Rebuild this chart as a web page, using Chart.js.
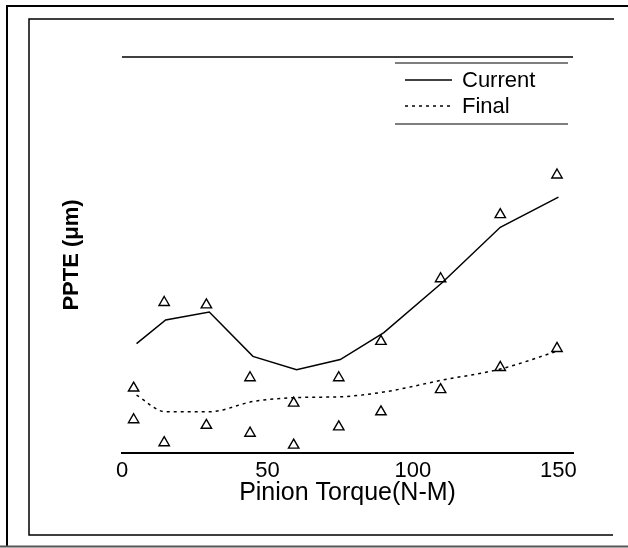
<!DOCTYPE html>
<html>
<head>
<meta charset="utf-8">
<script src="https://cdn.jsdelivr.net/npm/chart.js@4.4.0/dist/chart.umd.min.js"></script>
<style>
  html, body { margin: 0; padding: 0; background: #fff; }
  #wrap { position: relative; width: 628px; height: 548px; }
</style>
</head>
<body>
<div id="wrap"><canvas id="ppteChart"></canvas></div>
<script>
// torque values (N-M) for the fitted curves and the measured points
const torque = [5, 15, 30, 45, 60, 75, 90, 110, 130, 150];
const measuredTorque = [4, 14.5, 29, 44, 59, 74.5, 89, 109.5, 130, 149.5];

// PPTE (arbitrary units, axis has no labels)
const currentFit = [1.38, 1.68, 1.78, 1.22, 1.05, 1.18, 1.52, 2.15, 2.85, 3.23];
const finalFit = [0.73, 0.52, 0.52, 0.65, 0.70, 0.71, 0.77, 0.92, 1.06, 1.29];
const currentMeasured = [0.82, 1.90, 1.87, 0.95, 0.63, 0.95, 1.41, 2.20, 3.01, 3.51];
const finalMeasured = [0.42, 0.13, 0.35, 0.25, 0.10, 0.33, 0.52, 0.80, 1.08, 1.32];

const xTicks = [0, 50, 100, 150];
const legendLabels = ['Current', 'Final'];

const FONT = '"Liberation Sans", Arial, sans-serif';

function toPoints(xs, ys) {
    return xs.map((x, i) => ({ x: x, y: ys[i] }));
}

// frame lines around the figure and the custom legend box
const framePlugin = {
    id: 'frame',
    afterDraw(chart) {
        const ctx = chart.ctx;
        const area = chart.chartArea;
        ctx.save();
        ctx.strokeStyle = '#000';

        // outer frame
        ctx.lineWidth = 2;
        ctx.beginPath();
        ctx.moveTo(628, 6); ctx.lineTo(7, 6); ctx.lineTo(7, 546);
        ctx.stroke();
        ctx.strokeStyle = '#555';
        ctx.beginPath();
        ctx.moveTo(0, 546.5); ctx.lineTo(628, 546.5);
        ctx.stroke();

        // inner frame
        ctx.strokeStyle = '#000';
        ctx.lineWidth = 1.5;
        ctx.beginPath();
        ctx.moveTo(614, 19); ctx.lineTo(29, 19); ctx.lineTo(29, 535); ctx.lineTo(613, 535);
        ctx.stroke();

        // top line of the plot
        ctx.beginPath();
        ctx.moveTo(area.left, area.top); ctx.lineTo(area.right, area.top);
        ctx.stroke();

        // legend box
        ctx.lineWidth = 1.2;
        ctx.beginPath();
        ctx.moveTo(395, 63); ctx.lineTo(568, 63);
        ctx.moveTo(395, 124); ctx.lineTo(568, 124);
        ctx.stroke();

        const rows = [80, 106];
        ctx.font = '22px ' + FONT;
        ctx.fillStyle = '#000';
        ctx.textBaseline = 'middle';
        legendLabels.forEach((label, i) => {
            const ds = chart.data.datasets.find(d => d.label === label);
            ctx.lineWidth = ds.borderWidth;
            ctx.setLineDash(ds.borderDash || []);
            ctx.beginPath();
            ctx.moveTo(405, rows[i]); ctx.lineTo(452, rows[i]);
            ctx.stroke();
            ctx.setLineDash([]);
            ctx.fillText(label, 462, rows[i] + 1);
        });
        ctx.restore();
    }
};

new Chart(document.getElementById('ppteChart'), {
    type: 'scatter',
    data: {
        datasets: [{
            label: 'Current',
            data: toPoints(torque, currentFit),
            showLine: true,
            borderColor: '#000',
            borderWidth: 1.5,
            pointRadius: 0,
            tension: 0
        }, {
            label: 'Final',
            data: toPoints(torque, finalFit),
            showLine: true,
            borderColor: '#000',
            borderWidth: 1.5,
            borderDash: [3, 4],
            pointRadius: 0,
            cubicInterpolationMode: 'monotone'
        }, {
            label: 'Current (measured)',
            data: toPoints(measuredTorque, currentMeasured),
            pointStyle: 'triangle',
            pointRadius: 6,
            borderColor: '#000',
            borderWidth: 1.4,
            backgroundColor: 'rgba(0,0,0,0)'
        }, {
            label: 'Final (measured)',
            data: toPoints(measuredTorque, finalMeasured),
            pointStyle: 'triangle',
            pointRadius: 6,
            borderColor: '#000',
            borderWidth: 1.4,
            backgroundColor: 'rgba(0,0,0,0)'
        }]
    },
    options: {
        responsive: true,
        maintainAspectRatio: false,
        animation: false,
        layout: {
            padding: { left: 55, top: 57, right: 55, bottom: 36 }
        },
        plugins: {
            legend: { display: false },
            tooltip: { enabled: false }
        },
        scales: {
            x: {
                type: 'linear',
                min: 0,
                max: 155,
                afterBuildTicks: (scale) => {
                    scale.ticks = xTicks.map(v => ({ value: v }));
                },
                afterFit: (scale) => { scale.height = 59; },
                grid: { display: false, drawTicks: false },
                border: { display: true, color: '#000', width: 2 },
                ticks: {
                    padding: 5,
                    color: '#000',
                    font: { family: FONT, size: 22 }
                },
                title: {
                    display: true,
                    text: 'Pinion Torque(N-M)',
                    color: '#000',
                    font: { family: FONT, size: 25 }
                }
            },
            y: {
                min: 0,
                max: 5,
                afterFit: (scale) => { scale.width = 67; },
                grid: { display: false, drawTicks: false },
                border: { display: false },
                ticks: { display: false },
                title: {
                    display: true,
                    text: 'PPTE (μm)',
                    color: '#000',
                    font: { family: FONT, size: 22, weight: 'bold' }
                }
            }
        }
    },
    plugins: [framePlugin]
});
</script>
</body>
</html>
